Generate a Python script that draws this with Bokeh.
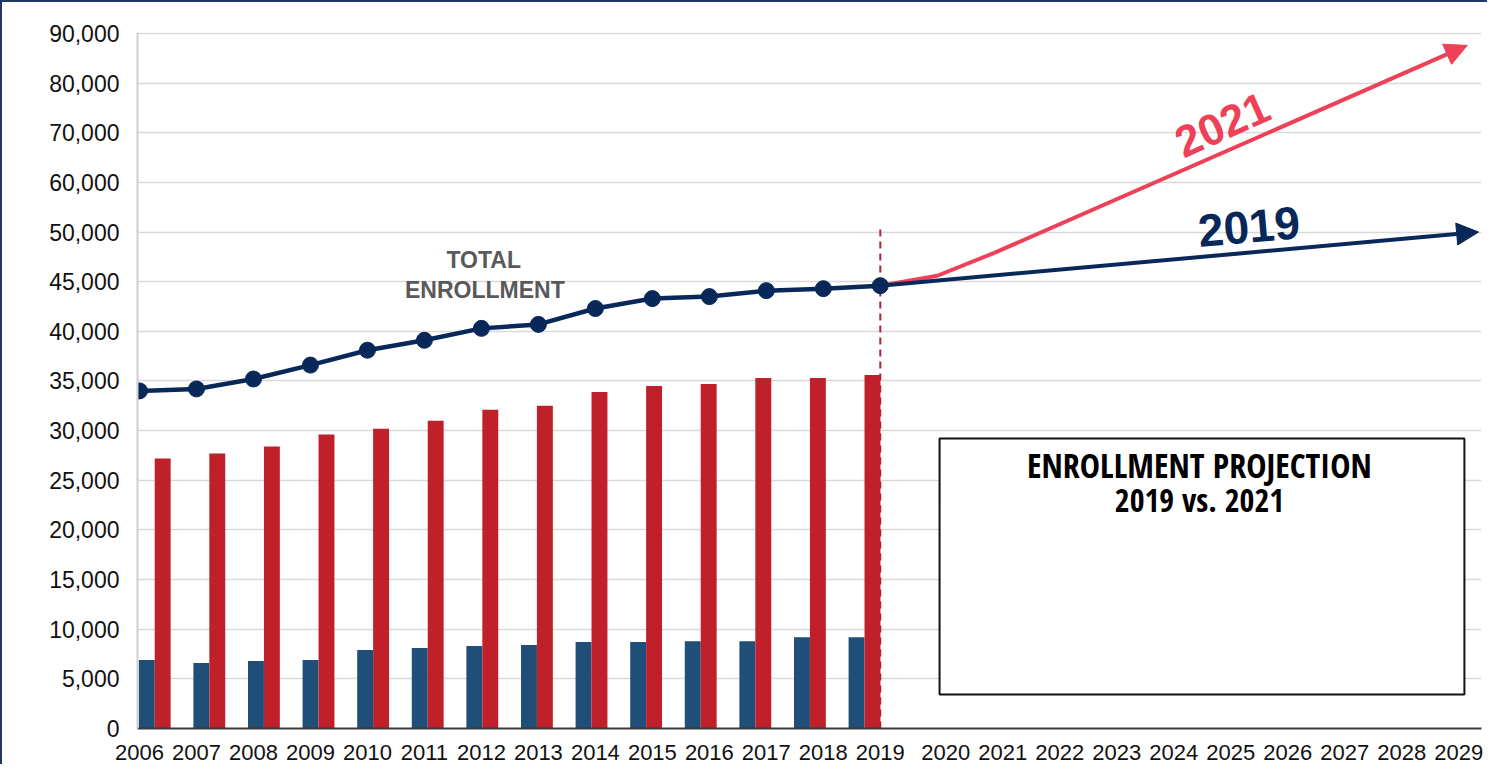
import numpy as np
from bokeh.plotting import figure
from bokeh.models import (Range1d, FixedTicker, ColumnDataSource, Arrow, NormalHead,
                          Label, BoxAnnotation)
from bokeh.transform import dodge
from bokeh.embed import file_html
from bokeh.resources import INLINE

# ---------------- data ----------------
years = list(range(2006, 2020))
total_enrollment = [34000, 34200, 35200, 36600, 38100, 39100, 40300,
                    40700, 42300, 43300, 43500, 44100, 44300, 44600]
red_series = [27200, 27700, 28400, 29600, 30200, 31000, 32100,
              32500, 33900, 34500, 34700, 35300, 35300, 35600]
blue_series = [6900, 6600, 6800, 6900, 7900, 8100, 8300,
               8400, 8700, 8700, 8800, 8800, 9200, 9200]

proj2019_years = [2019, 2029.5]
proj2019_vals = [44600, 50000]
proj2021_years = [2019, 2020, 2021, 2029.3]
proj2021_vals = [44600, 45600, 47900, 87600]

y_tick_values = [0, 5000, 10000, 15000, 20000, 25000, 30000, 35000, 40000,
                 45000, 50000, 60000, 70000, 80000, 90000]
y_tick_labels = [f"{v:,}" for v in y_tick_values]
x_tick_years = list(range(2006, 2030))
divider_year = 2019
divider_top = 51000

TICKFONT = "Liberation Sans"
NARROW = "Open Sans Condensed"
BOLD = "Liberation Sans"

# broken value axis: position = index of the unevenly spaced tick values
def ypos(v):
    return np.interp(v, y_tick_values, np.arange(len(y_tick_values)))

# year labels after 2019 sit slightly further right
def xtick_pos(y):
    return float(y) if y <= 2019 else round(y + 0.15, 2)

p = figure(width=1487, height=764, output_backend="svg", toolbar_location=None,
           x_range=Range1d(2005.965, 2029.55), y_range=Range1d(0, 14.02),
           min_border_left=135, min_border_right=8, min_border_top=30,
           min_border_bottom=38)
p.extra_x_ranges = {"bars": Range1d(2005.6846, 2030.30)}
p.outline_line_color = None
p.background_fill_color = "white"
p.border_fill_color = "white"
p.styles = {"border-left": "2px solid #1F3864", "border-top": "2px solid #1F3864"}

xt = [xtick_pos(y) for y in x_tick_years]
p.xaxis.ticker = FixedTicker(ticks=xt)
p.xaxis.major_label_overrides = {xtick_pos(y): str(y) for y in x_tick_years}
p.yaxis.ticker = FixedTicker(ticks=list(range(len(y_tick_values))))
p.yaxis.major_label_overrides = {i: lab for i, lab in enumerate(y_tick_labels)}
for ax in (p.xaxis, p.yaxis):
    ax.major_tick_line_color = None
    ax.minor_tick_line_color = None
    ax.major_label_text_font = TICKFONT
    ax.major_label_text_color = "#111111"
p.xaxis.major_label_text_font_size = "22px"
p.yaxis.major_label_text_font_size = "23px"
p.xaxis.axis_line_color = "#3a3a3a"
p.xaxis.axis_line_width = 2
p.yaxis.axis_line_color = "#CFCFCF"
p.yaxis.axis_line_width = 2
p.xaxis.major_label_standoff = 10
p.yaxis.major_label_standoff = 12
p.xgrid.grid_line_color = None
p.ygrid.grid_line_color = "#D9D9D9"
p.ygrid.grid_line_width = 1.5

bars = ColumnDataSource(dict(year=years, blue=ypos(blue_series), red=ypos(red_series)))
bw = 0.2917
p.vbar(x=dodge("year", -bw / 2), top="blue", bottom=0, width=bw, source=bars,
       x_range_name="bars", fill_color="#1F4E79", line_color=None)
p.vbar(x=dodge("year", bw / 2), top="red", bottom=0, width=bw, source=bars,
       x_range_name="bars", fill_color="#C0202A", line_color=None)

p.segment(x0=[divider_year], y0=[0], x1=[divider_year], y1=[ypos(divider_top)],
          line_color="#B22234", line_width=2, line_dash="7 5")

py21 = ypos(proj2021_vals)
p.line(proj2021_years[:-1], py21[:-1], line_color="#EE4057", line_width=4)
p.add_layout(Arrow(end=NormalHead(size=22, fill_color="#EE4057", line_color="#EE4057"),
                   x_start=proj2021_years[-2], y_start=py21[-2],
                   x_end=proj2021_years[-1], y_end=py21[-1],
                   line_color="#EE4057", line_width=4))
py19 = ypos(proj2019_vals)
p.add_layout(Arrow(end=NormalHead(size=22, fill_color="#08285A", line_color="#08285A"),
                   x_start=proj2019_years[0], y_start=py19[0],
                   x_end=proj2019_years[1], y_end=py19[1],
                   line_color="#08285A", line_width=4))

ty = ypos(total_enrollment)
p.line(years, ty, line_color="#08285A", line_width=4.5)
p.scatter(years, ty, size=16, fill_color="#08285A", line_color="#08285A")

p.add_layout(Label(x=2012.04, y=9.43, text="TOTAL", text_font=BOLD, text_font_style="bold",
                   text_font_size="23px", text_color="#595959", text_align="center",
                   text_baseline="middle"))
p.add_layout(Label(x=2012.06, y=8.83, text="ENROLLMENT", text_font=BOLD, text_font_style="bold",
                   text_font_size="23px", text_color="#595959", text_align="center",
                   text_baseline="middle"))
p.add_layout(Label(x=2025.0, y=12.17, text="2021", text_font=BOLD, text_font_style="bold",
                   text_font_size="44px", text_color="#EE4057", text_align="center",
                   text_baseline="middle", angle=0.42))
p.add_layout(Label(x=2025.47, y=10.11, text="2019", text_font=BOLD, text_font_style="bold",
                   text_font_size="46px", text_color="#08285A", text_align="center",
                   text_baseline="middle", angle=0.087))

p.add_layout(BoxAnnotation(left=2020.04, right=2029.25, bottom=0.685, top=5.84,
                           fill_color="white", fill_alpha=1.0,
                           line_color="#111111", line_width=2, line_alpha=1.0))
p.add_layout(Label(x=2024.6, y=5.30, text="ENROLLMENT PROJECTION", text_font=NARROW,
                   text_font_style="bold", text_font_size="34px", text_color="#000000",
                   text_align="center", text_baseline="middle"))
p.add_layout(Label(x=2024.6, y=4.62, text="2019 vs. 2021", text_font=NARROW,
                   text_font_style="bold", text_font_size="32px", text_color="#000000",
                   text_align="center", text_baseline="middle"))

open("out.html", "w").write(file_html(p, INLINE))
